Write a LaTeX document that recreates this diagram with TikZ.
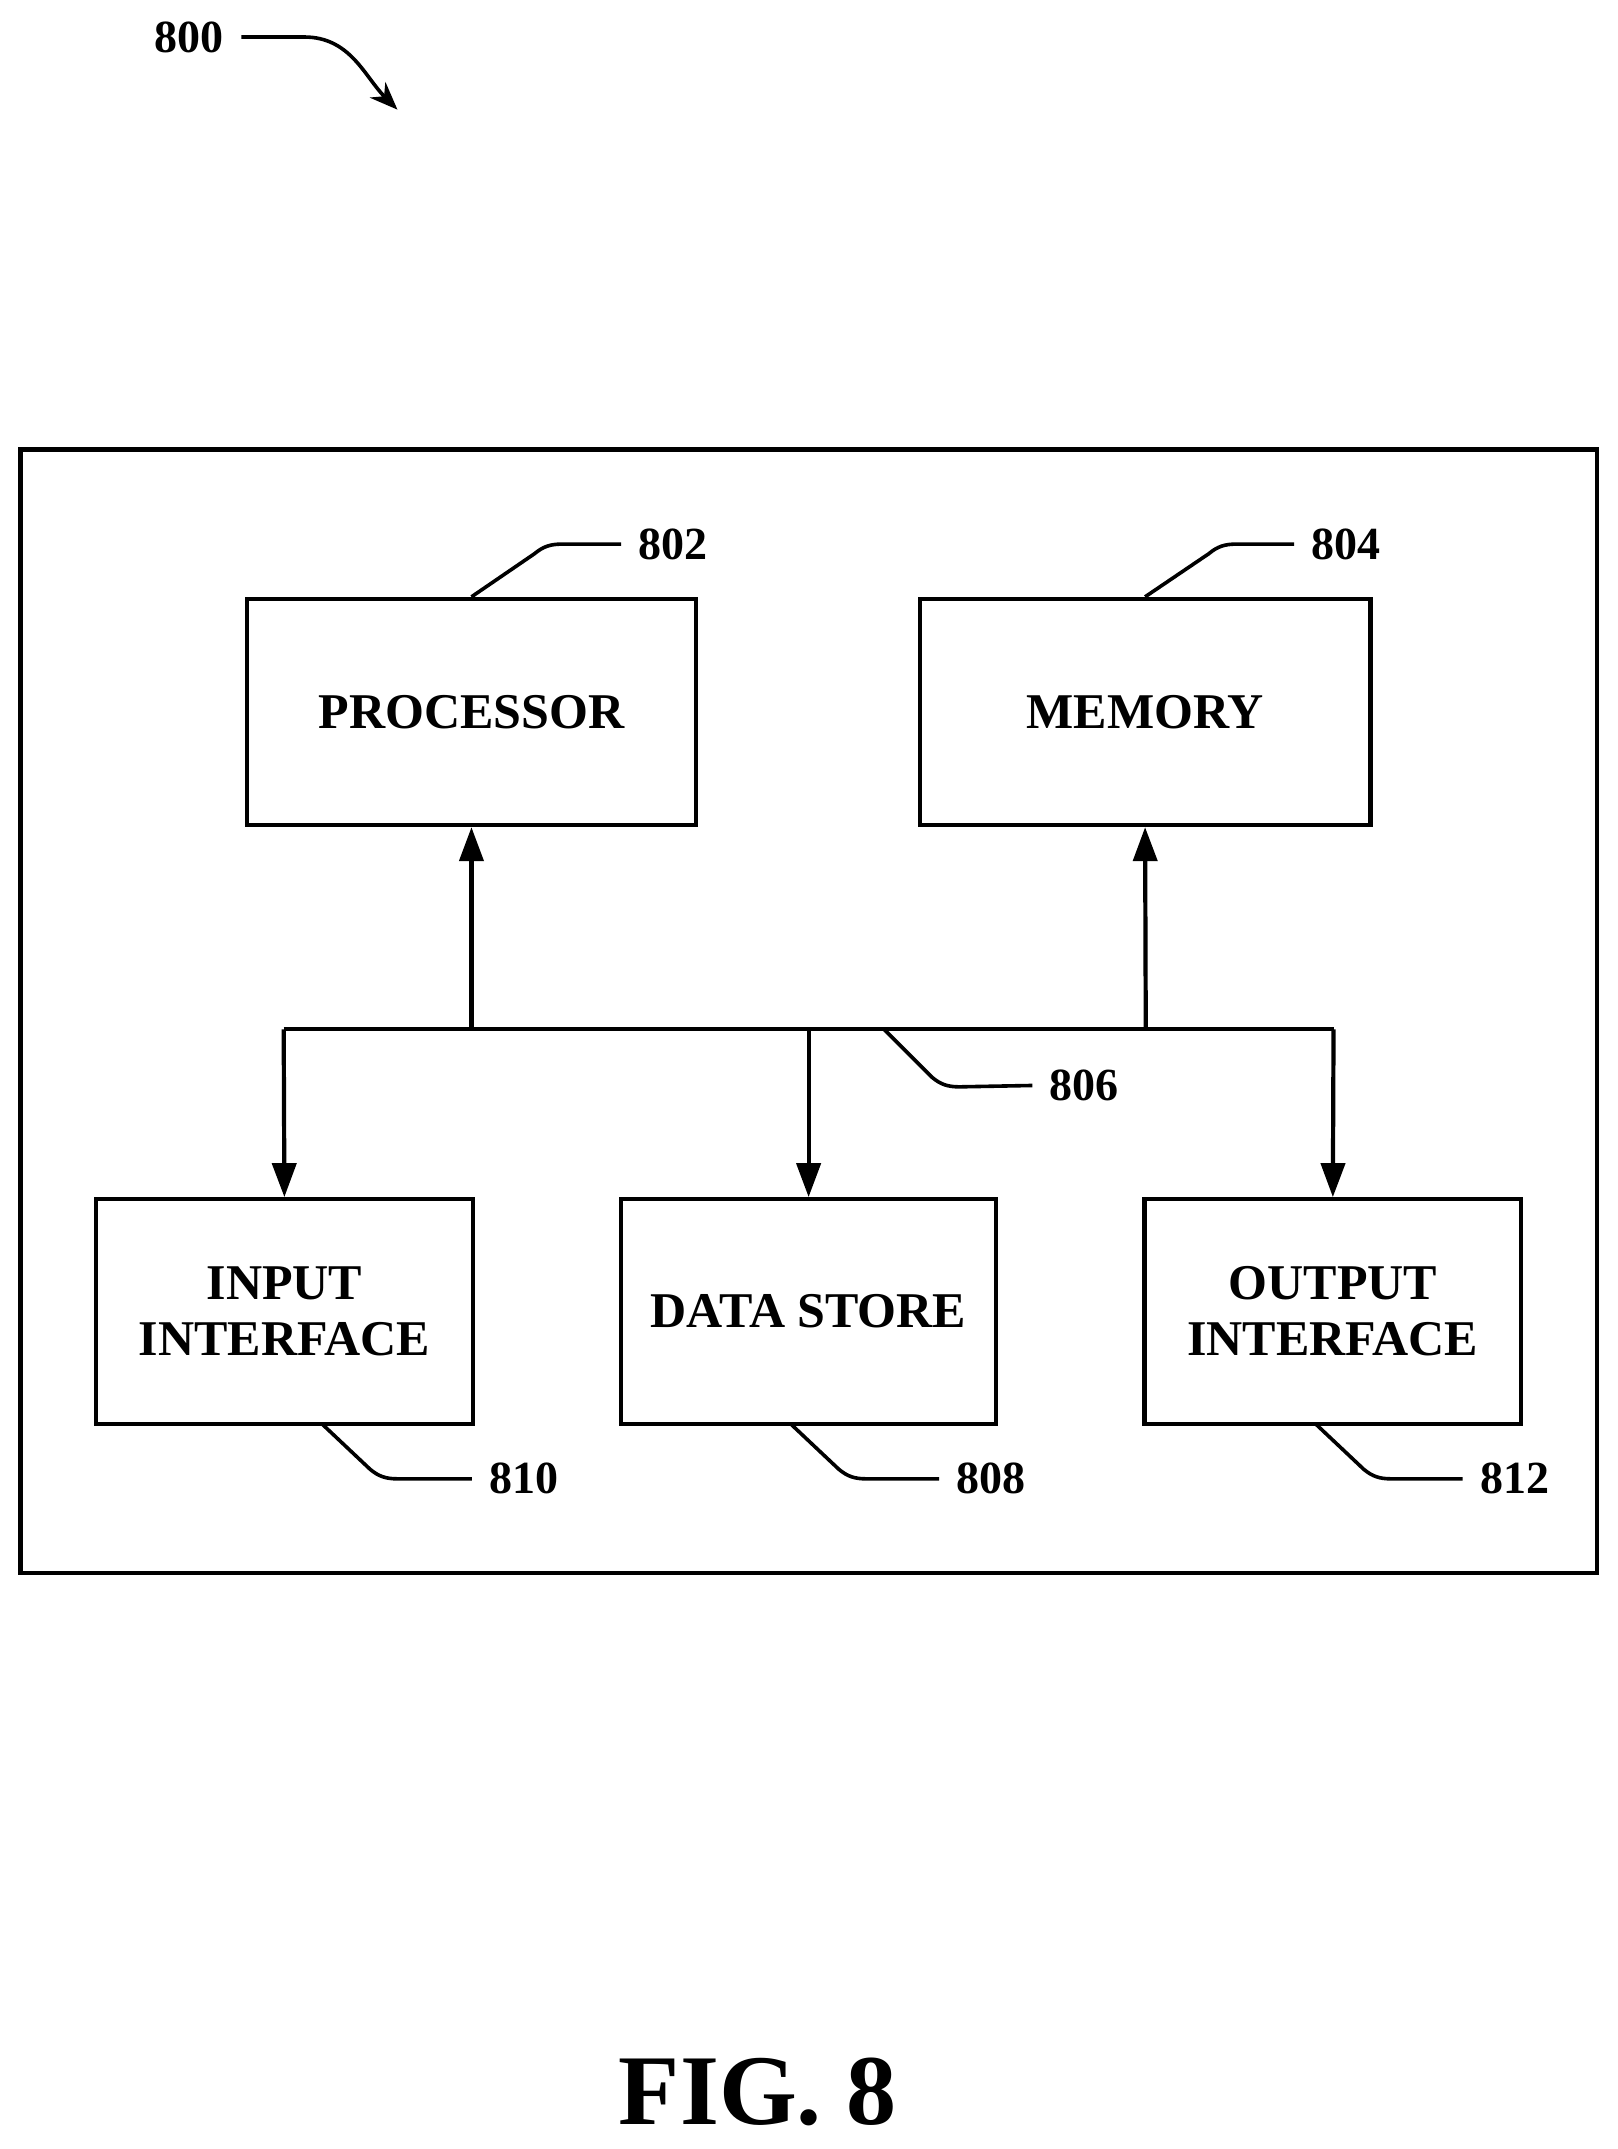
\documentclass[tikz,border=0pt]{standalone}
\usepackage{fontspec}
\setmainfont{Liberation Serif}
\usetikzlibrary{arrows.meta}

\begin{document}
\begin{tikzpicture}[x=1.37pt,y=-1.37pt,line width=4.2pt,
  box/.style={draw,align=center,font=\fontsize{50}{56}\selectfont\bfseries},
  refnum/.style={font=\fontsize{46}{50}\selectfont\bfseries},
  lead/.style={line width=3.6pt},
  flow/.style={-{Triangle[length=34pt,width=24pt]}}]

\useasboundingbox (0,0) rectangle (1180,1568);

% outer frame
\node[draw,minimum width=1150*1.37pt,minimum height=820*1.37pt] (Frame) at (590,738) {};

% blocks
\node[box,minimum width=328*1.37pt,minimum height=165*1.37pt] (Processor) at (344,519.5) {PROCESSOR};
\node[box,minimum width=329*1.37pt,minimum height=165*1.37pt] (Memory) at (835.5,519.5) {MEMORY};
\node[box,minimum width=275*1.37pt,minimum height=164*1.37pt] (Input) at (207.5,957) {INPUT\\INTERFACE};
\node[box,minimum width=274*1.37pt,minimum height=164*1.37pt] (DataStore) at (590,957) {DATA STORE};
\node[box,minimum width=275*1.37pt,minimum height=164*1.37pt] (Output) at (972.5,957) {OUTPUT\\INTERFACE};

% bus
\coordinate (BusL) at (207,751);
\coordinate (BusR) at (973,751);
\draw (BusL) -- (BusR);
\draw[flow] (344,751) -- (Processor.south);
\draw[flow] (836,751) -- (Memory.south);
\draw[flow] (BusL) -- (Input.north);
\draw[flow] (590,751) -- (DataStore.north);
\draw[flow] (BusR) -- (Output.north);

% reference numerals
\node[refnum,anchor=west] (L802) at (462,397) {802};
\node[refnum,anchor=west] (L804) at (953,397) {804};
\node[refnum,anchor=west] (L806) at (762,792) {806};
\node[refnum,anchor=west] (L810) at (353,1079) {810};
\node[refnum,anchor=west] (L808) at (694,1079) {808};
\node[refnum,anchor=west] (L812) at (1076,1079) {812};
\node[refnum,anchor=west] (L800) at (109,27) {800};

\draw[lead] (Processor.north) -- (390,404) to[out=40,in=180] (410,397) -- ([xshift=-12pt]L802.west);
\draw[lead] (Memory.north) -- (882,404) to[out=40,in=180] (902,397) -- ([xshift=-12pt]L804.west);
\draw[lead] (645,751) -- (680,786) to[out=-40,in=180] (700,793) -- ([xshift=-12pt]L806.west);
\draw[lead] (235,1039) -- (270,1072) to[out=-40,in=180] (290,1079) -- ([xshift=-12pt]L810.west);
\draw[lead] (577,1039) -- (612,1072) to[out=-40,in=180] (632,1079) -- ([xshift=-12pt]L808.west);
\draw[lead] (960,1039) -- (995,1072) to[out=-40,in=180] (1015,1079) -- ([xshift=-12pt]L812.west);
\draw[lead,-{Stealth[length=28pt,width=22pt]}] ([xshift=12pt]L800.east) -- (222,27) to[out=0,in=135] (290,80);

\node[font=\fontsize{100}{106}\selectfont\bfseries] (Caption) at (553,1526) {FIG. 8};
\end{tikzpicture}
\end{document}
